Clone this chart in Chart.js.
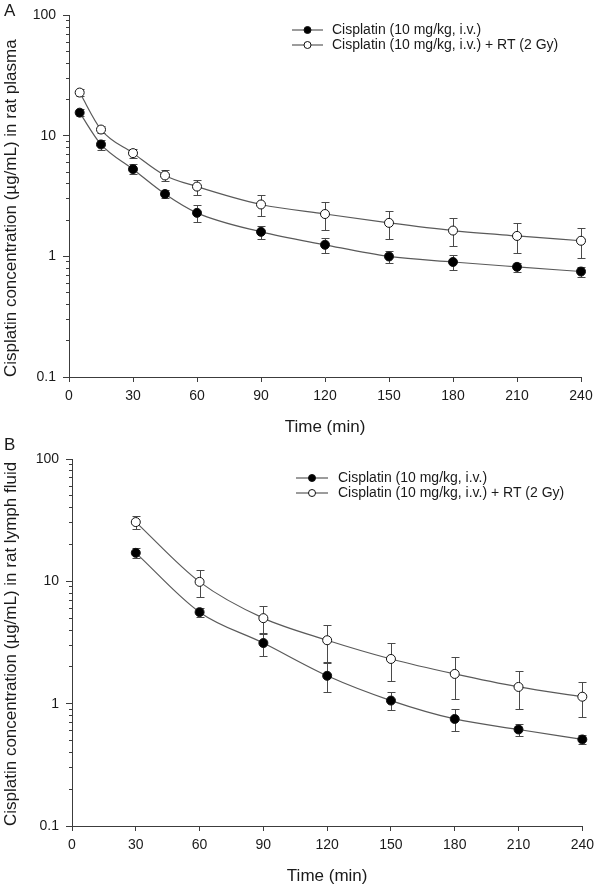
<!DOCTYPE html>
<html>
<head>
<meta charset="utf-8">
<script src="https://cdn.jsdelivr.net/npm/chart.js@4.4.1/dist/chart.umd.min.js"></script>
<style>
  body { margin: 0; background: #fff; }
  #wrap { position: relative; width: 600px; height: 891px; }
  .panel { position: absolute; left: 0; width: 600px; }
  .tag { position: absolute; left: 4px; font: 17px "Liberation Sans", Arial, sans-serif; color: #1a1a1a; line-height: 20px; }
</style>
</head>
<body>
<div id="wrap">
  <div class="panel" style="top:0;height:440px"><canvas id="chartA" width="600" height="440"></canvas></div>
  <div class="panel" style="top:440px;height:451px"><canvas id="chartB" width="600" height="451"></canvas></div>
  <div class="tag" style="top:1px">A</div>
  <div class="tag" style="top:435px">B</div>
</div>
<script>
// panel A - plasma
const timesA = [5, 15, 30, 45, 60, 90, 120, 150, 180, 210, 240];
const plasmaCis = [15.6, 8.5, 5.3, 3.3, 2.3, 1.6, 1.25, 1.0, 0.9, 0.82, 0.75];
const plasmaCisErr = [1.0, 0.8, 0.5, 0.25, 0.35, 0.2, 0.18, 0.12, 0.13, 0.07, 0.07];
const plasmaCisRt = [22.9, 11.3, 7.2, 4.7, 3.8, 2.7, 2.25, 1.9, 1.64, 1.48, 1.35];
const plasmaCisRtErr = [1.5, 0.8, 0.6, 0.5, 0.55, 0.55, 0.6, 0.5, 0.43, 0.42, 0.38];

// panel B - lymph fluid
const timesB = [30, 60, 90, 120, 150, 180, 210, 240];
const lymphCis = [17.1, 5.6, 3.13, 1.69, 1.06, 0.75, 0.615, 0.51];
const lymphCisErr = [1.5, 0.5, 0.66, 0.45, 0.18, 0.15, 0.07, 0.04];
const lymphCisRt = [30.5, 9.9, 5.0, 3.3, 2.32, 1.75, 1.37, 1.14];
const lymphCisRtErr = [3.6, 2.5, 1.3, 1.1, 0.8, 0.65, 0.47, 0.36];

const seriesLabels = ['Cisplatin (10 mg/kg, i.v.)', 'Cisplatin (10 mg/kg, i.v.) + RT (2 Gy)'];
const xTitle = 'Time (min)';
const yTitleA = 'Cisplatin concentration (\u00b5g/mL) in rat plasma';
const yTitleB = 'Cisplatin concentration (\u00b5g/mL) in rat lymph fluid';
const majorTicks = [0.1, 1, 10, 100];
const minorSteps = [2, 3, 4, 5, 6, 7, 8, 9];

const FONT = '"Liberation Sans", Arial, sans-serif';
const TEXT = '#1a1a1a';
const AXIS = '#3c3c3c';
const LINE = '#5a5a5a';

Chart.defaults.font.family = FONT;
Chart.defaults.color = TEXT;

const minorTicks = [];
majorTicks.slice(0, -1).forEach(m => minorSteps.forEach(s => minorTicks.push(+(m * s).toPrecision(3))));

const errorBars = {
  id: 'errorBars',
  beforeDatasetsDraw(chart) {
    const {ctx, scales: {x, y}} = chart;
    ctx.save();
    ctx.strokeStyle = '#4a4a4a';
    ctx.lineWidth = 1;
    chart.data.datasets.forEach(ds => {
      ds.data.forEach((p, i) => {
        const e = ds.errors[i];
        const px = Math.round(x.getPixelForValue(p.x)) + 0.5;
        const top = Math.round(y.getPixelForValue(p.y + e)) + 0.5;
        const bot = Math.round(y.getPixelForValue(p.y - e)) + 0.5;
        ctx.beginPath();
        ctx.moveTo(px, top); ctx.lineTo(px, bot);
        ctx.moveTo(px - 4, top); ctx.lineTo(px + 4, top);
        ctx.moveTo(px - 4, bot); ctx.lineTo(px + 4, bot);
        ctx.stroke();
      });
    });
    ctx.restore();
  }
};

const lineLegend = {
  id: 'lineLegend',
  afterDatasetsDraw(chart, args, opts) {
    const {ctx} = chart;
    ctx.save();
    chart.data.datasets.forEach((ds, i) => {
      const y = opts.y + i * opts.rowGap;
      ctx.strokeStyle = ds.borderColor;
      ctx.lineWidth = 1.2;
      ctx.beginPath();
      ctx.moveTo(opts.x, y);
      ctx.lineTo(opts.x + opts.len, y);
      ctx.stroke();
      ctx.beginPath();
      ctx.arc(opts.x + opts.len / 2, y, 3.5, 0, Math.PI * 2);
      ctx.fillStyle = ds.pointBackgroundColor;
      ctx.fill();
      ctx.strokeStyle = ds.pointBorderColor;
      ctx.lineWidth = 1;
      ctx.stroke();
      ctx.fillStyle = TEXT;
      ctx.font = '14px ' + FONT;
      ctx.textBaseline = 'middle';
      ctx.fillText(ds.label, opts.x + opts.len + opts.gap, y);
    });
    ctx.restore();
  }
};

function series(times, values, errors, label, fillColor) {
  return {
    label: label,
    data: times.map((t, i) => ({x: t, y: values[i]})),
    errors: errors,
    borderColor: LINE,
    borderWidth: 1.2,
    pointRadius: 4.5,
    pointBackgroundColor: fillColor,
    pointBorderColor: '#111',
    pointBorderWidth: 1,
    cubicInterpolationMode: 'monotone',
    clip: false,
    fill: false
  };
}

function makeChart(id, times, s1, e1, s2, e2, yTitle, g) {
  const ctx = document.getElementById(id).getContext('2d');
  return new Chart(ctx, {
    type: 'line',
    data: {
      datasets: [
        series(times, s1, e1, seriesLabels[0], '#000'),
        series(times, s2, e2, seriesLabels[1], '#fff')
      ]
    },
    options: {
      responsive: false,
      animation: false,
      events: [],
      layout: { padding: { top: g.top, right: g.right, left: 0, bottom: 0 } },
      plugins: {
        legend: { display: false },
        tooltip: { enabled: false },
        lineLegend: g.legend
      },
      scales: {
        x: {
          type: 'linear', min: 0, max: 240,
          ticks: { stepSize: 30, font: { size: 14 }, padding: 6, maxRotation: 0 },
          grid: { drawOnChartArea: false, tickLength: 5, tickColor: AXIS },
          border: { color: AXIS, width: 1 },
          title: { display: true, text: xTitle, font: { size: 17 }, padding: { top: 0, bottom: g.xTitlePad } },
          afterFit: s => { s.height = g.bottom; }
        },
        y: {
          type: 'logarithmic', position: 'left', min: 0.1, max: 100, weight: 1,
          afterBuildTicks: s => { s.ticks = majorTicks.map(v => ({value: v, major: true})); },
          ticks: { autoSkip: false, font: { size: 14 }, padding: 7, callback: v => String(v) },
          grid: { drawOnChartArea: false, tickLength: 6, tickColor: AXIS },
          border: { color: AXIS, width: 1 },
          title: { display: true, text: yTitle, align: 'start', font: { size: 17 }, padding: { top: 1, bottom: 0 } },
          afterFit: s => { s.width = g.left; }
        },
        yMinor: {
          type: 'logarithmic', position: 'left', min: 0.1, max: 100, weight: 0,
          afterBuildTicks: s => { s.ticks = minorTicks.map(v => ({value: v})); },
          ticks: { display: false },
          grid: { drawOnChartArea: false, tickLength: 3, tickColor: AXIS },
          border: { display: false },
          afterFit: s => { s.width = 0; }
        }
      }
    },
    plugins: [errorBars, lineLegend]
  });
}

makeChart('chartA', timesA, plasmaCis, plasmaCisErr, plasmaCisRt, plasmaCisRtErr, yTitleA, {
  left: 69, right: 19, top: 11, bottom: 63, xTitlePad: 2,
  legend: { x: 292, len: 31, gap: 9, y: 30, rowGap: 15 }
});

makeChart('chartB', timesB, lymphCis, lymphCisErr, lymphCisRt, lymphCisRtErr, yTitleB, {
  left: 72, right: 17, top: 19, bottom: 65, xTitlePad: 4,
  legend: { x: 296, len: 32, gap: 10, y: 38, rowGap: 15 }
});
</script>
</body>
</html>
